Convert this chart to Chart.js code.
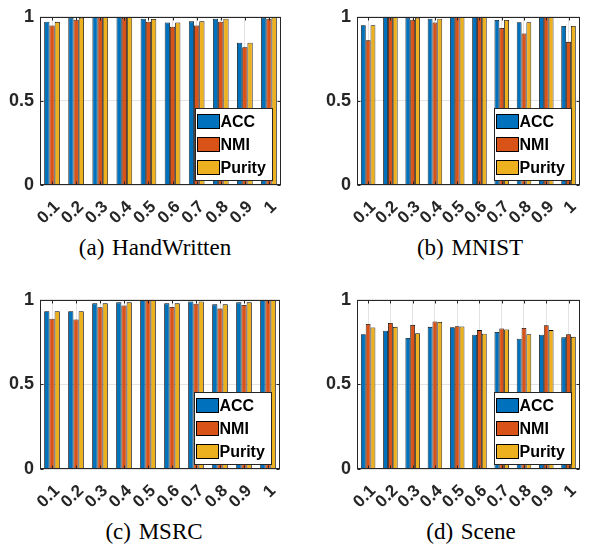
<!DOCTYPE html>
<html>
<head>
<meta charset="utf-8">
<script src="https://cdn.jsdelivr.net/npm/chart.js@4.4.1/dist/chart.umd.min.js"></script>
<style>
    body { margin: 0; background: #fff; }
    #wrap { position: relative; width: 595px; height: 548px; overflow: hidden; }
    canvas { position: absolute; }
    .cap {
        position: absolute; width: 260px; text-align: center;
        font-family: 'Liberation Serif', 'Times New Roman', serif;
        font-size: 23px; line-height: 23px; color: #000;
        word-spacing: 2px; white-space: nowrap;
    }
</style>
</head>
<body>
<div id="wrap">
    <canvas id="handwritten" width="300" height="232" style="left:0px;top:0px"></canvas>
    <canvas id="mnist" width="278" height="232" style="left:317px;top:0px"></canvas>
    <canvas id="msrc" width="300" height="232" style="left:0px;top:283px"></canvas>
    <canvas id="scene" width="278" height="232" style="left:317px;top:283px"></canvas>
    <div class="cap" style="left:25px;top:236px">(a) HandWritten</div>
    <div class="cap" style="left:340px;top:236px">(b) MNIST</div>
    <div class="cap" style="left:24px;top:520px">(c) MSRC</div>
    <div class="cap" style="left:341px;top:520px">(d) Scene</div>
</div>
<script>
const ratios = ['0.1', '0.2', '0.3', '0.4', '0.5', '0.6', '0.7', '0.8', '0.9', '1'];
const yTicks = [0, 0.5, 1];
const seriesNames = ['ACC', 'NMI', 'Purity'];

// HandWritten
const handAcc = [0.971, 0.994, 1.000, 1.000, 0.989, 0.966, 0.973, 0.989, 0.846, 0.994];
const handNmi = [0.949, 0.983, 0.996, 0.994, 0.971, 0.941, 0.949, 0.971, 0.819, 0.989];
const handPur = [0.970, 0.994, 1.000, 0.998, 0.987, 0.966, 0.973, 0.989, 0.846, 0.996];

// MNIST
const mnistAcc = [0.950, 1.000, 0.994, 0.988, 0.999, 1.000, 0.981, 0.968, 1.000, 0.946];
const mnistNmi = [0.861, 0.995, 0.983, 0.966, 0.998, 0.999, 0.933, 0.901, 0.999, 0.851];
const mnistPur = [0.950, 1.000, 0.995, 0.988, 0.999, 1.000, 0.981, 0.968, 1.000, 0.946];

// MSRC
const msrcAcc = [0.933, 0.933, 0.979, 0.985, 1.000, 0.979, 0.990, 0.973, 0.985, 1.000];
const msrcNmi = [0.888, 0.884, 0.956, 0.967, 1.000, 0.958, 0.977, 0.948, 0.969, 0.999];
const msrcPur = [0.933, 0.933, 0.979, 0.985, 1.000, 0.979, 0.990, 0.973, 0.985, 1.000];

// Scene
const sceneAcc = [0.797, 0.817, 0.774, 0.840, 0.838, 0.793, 0.810, 0.770, 0.793, 0.778];
const sceneNmi = [0.857, 0.863, 0.852, 0.872, 0.844, 0.821, 0.831, 0.834, 0.850, 0.797];
const scenePur = [0.836, 0.840, 0.802, 0.869, 0.842, 0.800, 0.825, 0.797, 0.821, 0.781];

const colors = ['#0072BD', '#D95319', '#EDB120'];
const axisColor = '#262626';
const fontFamily = "'Liberation Sans', Arial, Helvetica, sans-serif";

// box around the axes with inward ticks, like matlab
const boxPlugin = {
    id: 'box',
    afterDraw(chart) {
        const {ctx, chartArea: a, scales: {x, y}} = chart;
        const l = Math.round(a.left) + 0.5, r = Math.round(a.right) - 0.5;
        const t = Math.round(a.top) + 0.5, b = Math.round(a.bottom) - 0.5;
        ctx.save();
        ctx.strokeStyle = axisColor;
        ctx.lineWidth = 1;
        ctx.beginPath();
        x.ticks.forEach((tk, i) => {
            const px = Math.round(x.getPixelForTick(i)) + 0.5;
            ctx.moveTo(px, t); ctx.lineTo(px, t + 3);
            ctx.moveTo(px, b); ctx.lineTo(px, b - 3);
        });
        yTicks.forEach(v => {
            const py = Math.round(y.getPixelForValue(v)) + 0.5;
            ctx.moveTo(l, py); ctx.lineTo(l + 3, py);
            ctx.moveTo(r, py); ctx.lineTo(r - 3, py);
        });
        ctx.stroke();
        ctx.strokeRect(l, t, r - l, b - t);
        ctx.restore();
    }
};

// legend box inside the lower right corner
const legendPlugin = {
    id: 'boxLegend',
    afterDraw(chart) {
        const {ctx, chartArea: a} = chart;
        const w = 77, h = 72;
        const left = Math.round(a.right - 9 - w) + 0.5;
        const top = Math.round(a.bottom - 5 - h) + 0.5;
        ctx.save();
        ctx.fillStyle = '#fff';
        ctx.fillRect(left, top, w, h);
        ctx.strokeStyle = axisColor;
        ctx.lineWidth = 1;
        ctx.strokeRect(left, top, w, h);
        ctx.font = 'bold 16px ' + fontFamily;
        ctx.textBaseline = 'middle';
        chart.data.datasets.forEach((ds, i) => {
            const sy = top + 6 + i * 23;
            ctx.fillStyle = ds.backgroundColor;
            ctx.fillRect(left + 2, sy, 22, 14);
            ctx.strokeStyle = '#000';
            ctx.strokeRect(left + 2, sy, 22, 14);
            ctx.fillStyle = '#000';
            ctx.fillText(ds.label, left + 25, sy + 8);
        });
        ctx.restore();
    }
};

function makePanel(id, acc, nmi, pur, area) {
    const values = [acc, nmi, pur];
    return new Chart(document.getElementById(id), {
        type: 'bar',
        data: {
            labels: ratios,
            datasets: values.map((v, i) => ({
                label: seriesNames[i],
                data: v,
                backgroundColor: colors[i],
                borderColor: '#000',
                borderWidth: 0.8,
                categoryPercentage: 0.65,
                barPercentage: 1
            }))
        },
        options: {
            responsive: false,
            animation: false,
            devicePixelRatio: 1,
            layout: {
                padding: {top: area.top, right: area.right, left: 0, bottom: 0}
            },
            scales: {
                x: {
                    grid: {color: '#e3e3e3', offset: false, drawTicks: false},
                    border: {display: false},
                    ticks: {
                        color: axisColor,
                        font: {family: fontFamily, size: 17, weight: 'bold'},
                        minRotation: 45,
                        maxRotation: 45,
                        autoSkip: false,
                        labelOffset: 5,
                        padding: 12
                    },
                    afterFit: s => { s.height = area.xh; }
                },
                y: {
                    min: 0,
                    max: 1,
                    afterBuildTicks: s => { s.ticks = yTicks.map(v => ({value: v})); },
                    grid: {color: '#e3e3e3', drawTicks: false},
                    border: {display: false},
                    ticks: {
                        color: axisColor,
                        font: {family: fontFamily, size: 18, weight: 'bold'},
                        padding: 6,
                        callback: v => String(v)
                    },
                    afterFit: s => { s.width = 40; }
                }
            },
            plugins: {
                legend: {display: false},
                tooltip: {enabled: false}
            }
        },
        plugins: [boxPlugin, legendPlugin]
    });
}

makePanel('handwritten', handAcc, handNmi, handPur, {top: 10, right: 19, xh: 47});
makePanel('mnist', mnistAcc, mnistNmi, mnistPur, {top: 10, right: 1, xh: 47});
makePanel('msrc', msrcAcc, msrcNmi, msrcPur, {top: 10, right: 20, xh: 46});
makePanel('scene', sceneAcc, sceneNmi, scenePur, {top: 10, right: 1, xh: 46});
</script>
</body>
</html>
